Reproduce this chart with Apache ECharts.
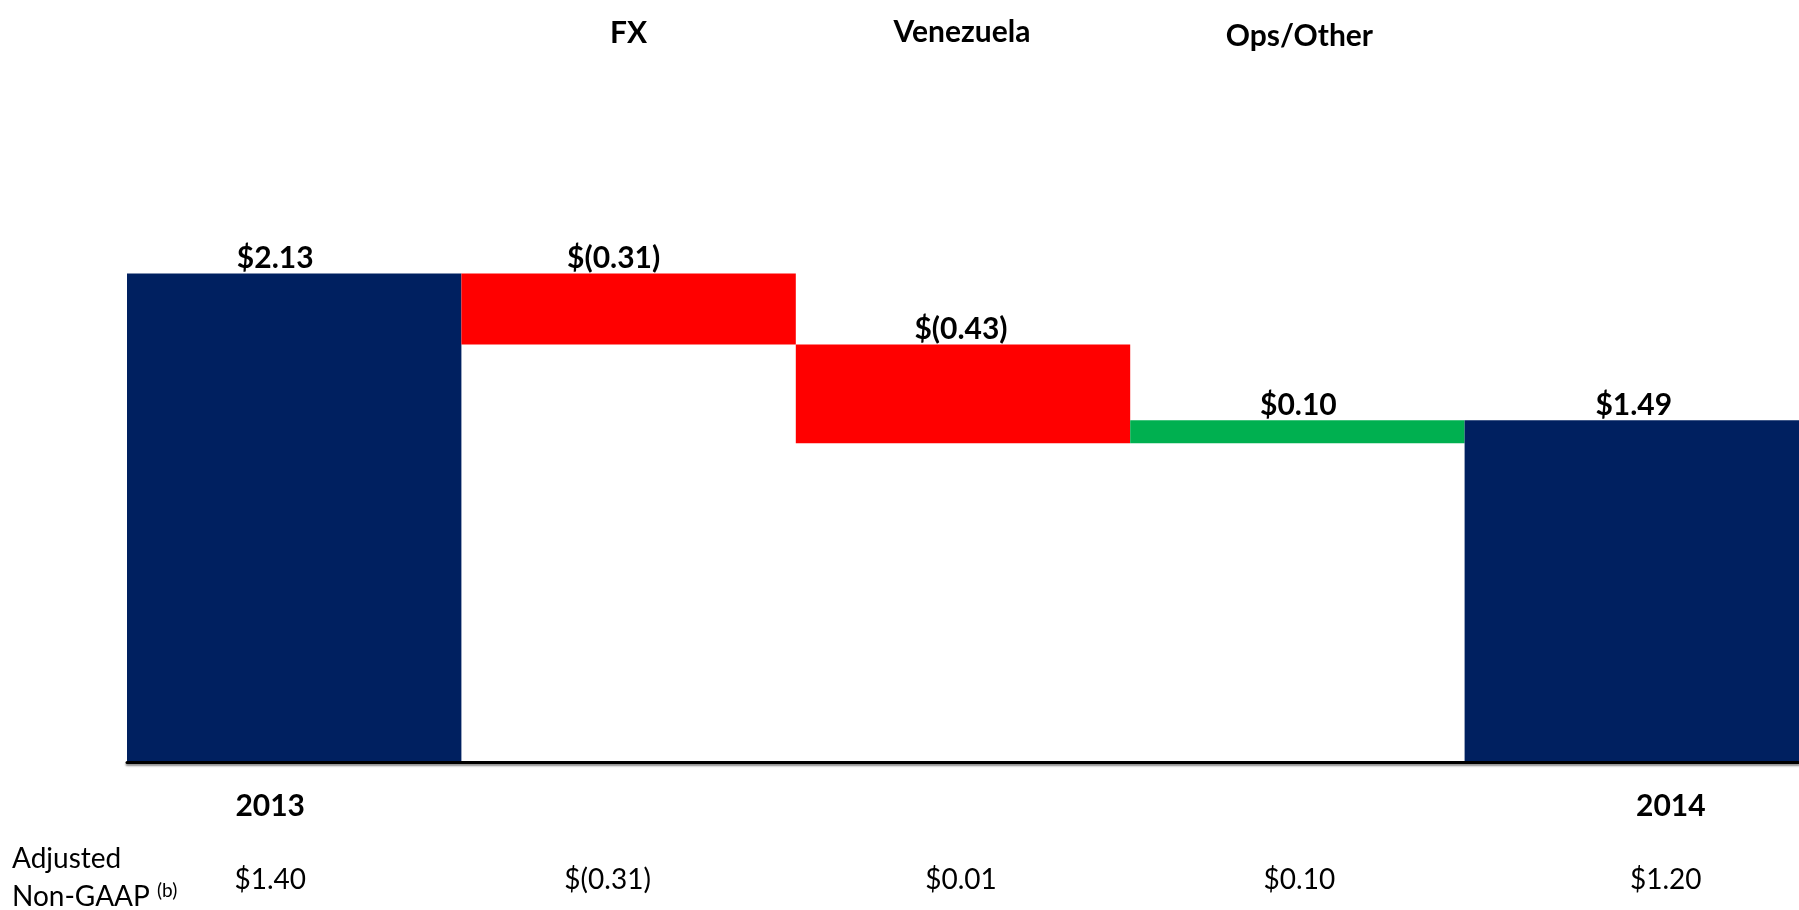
<!DOCTYPE html>
<html>
<head>
<meta charset="utf-8">
<script src="https://cdn.jsdelivr.net/npm/echarts@6/dist/echarts.min.js"></script>
<style>
  html, body { margin: 0; padding: 0; background: #ffffff; }
  #chart { width: 1799px; height: 910px; }
</style>
</head>
<body>
<div id="chart"></div>
<script>
// EPS bridge, 2013 -> 2014
const categories = ['2013', 'FX', 'Venezuela', 'Ops/Other', '2014'];
const startValue = 2.13;
const stepChanges = [-0.31, -0.43, 0.10];
const endValue = 1.49;
const adjustedNonGaap = [1.40, -0.31, 0.01, 0.10, 1.20];
const rowTitle = ['Adjusted', 'Non-GAAP'];
const footnoteMark = '(b)';

function money(v) {
  const s = Math.abs(v).toFixed(2);
  return v < 0 ? '$(' + s + ')' : '$' + s;
}

// Waterfall: an invisible base bar stacked under the visible segment
const base = [], segment = [], kind = [], labelValue = [];
base.push(0); segment.push(startValue); kind.push('total'); labelValue.push(startValue);
let level = startValue;
stepChanges.forEach(function (d) {
  const next = level + d;
  base.push(Math.min(level, next));
  segment.push(Math.abs(d));
  kind.push(d < 0 ? 'down' : 'up');
  labelValue.push(d);
  level = next;
});
base.push(0); segment.push(endValue); kind.push('total'); labelValue.push(endValue);

const COLORS = { total: '#002060', down: '#FF0000', up: '#00B050' };
const FONT = 'Lato, "Open Sans", sans-serif';

// small horizontal nudges for the text rows (px, + = right)
function richFor(shifts, extra) {
  const rich = {};
  shifts.forEach(function (s, i) {
    const st = Object.assign({}, extra(i));
    const pad = st.padding || [0, 0, 0, 0];
    if (s < 0) pad[1] += -2 * s; else pad[3] += 2 * s;
    st.padding = pad;
    rich['k' + i] = st;
  });
  return rich;
}

const bottomRich = richFor([-24, 0, 0, 0, 39], function () {
  return { fontFamily: FONT, fontWeight: 'bold', fontSize: 30, lineHeight: 34, color: '#000' };
});
const topRich = richFor([-15, 0, -1, 2, 0], function (i) {
  const padBottom = [0, 5, 8, 0, 0][i];
  return { fontFamily: FONT, fontWeight: 'bold', fontSize: 30, lineHeight: 34, color: '#000',
           padding: [0, 0, padBottom, 0] };
});
const valueRich = richFor([-24, -21, -2, 2, 34], function () {
  return { fontFamily: FONT, fontSize: 28, lineHeight: 34, color: '#000' };
});
const barLabelShift = [-19, -15, -2, 1, 2];

const chart = echarts.init(document.getElementById('chart'), null, { renderer: 'canvas' });

chart.setOption({
  animation: false,
  backgroundColor: '#ffffff',
  grid: { left: 127, right: -6, top: 74, bottom: 148, containLabel: false },
  xAxis: [
    {
      type: 'category', position: 'bottom', data: categories, z: 5,
      axisLine: { show: true, lineStyle: { color: '#000', width: 3,
        shadowColor: 'rgba(0,0,0,0.45)', shadowBlur: 2, shadowOffsetY: 2 } },
      axisTick: { show: false },
      axisLabel: {
        interval: 0, margin: 27,
        formatter: function (v, i) { return kind[i] === 'total' ? '{k' + i + '|' + v + '}' : ''; },
        rich: bottomRich
      }
    },
    {
      type: 'category', position: 'top', data: categories,
      axisLine: { show: false }, axisTick: { show: false },
      axisLabel: {
        interval: 0, margin: 21,
        formatter: function (v, i) { return kind[i] !== 'total' ? '{k' + i + '|' + v + '}' : ''; },
        rich: topRich
      }
    },
    {
      type: 'category', position: 'bottom', offset: 0,
      data: adjustedNonGaap.map(money),
      axisLine: { show: false }, axisTick: { show: false },
      axisLabel: {
        interval: 0, margin: 101,
        formatter: function (v, i) { return '{k' + i + '|' + v + '}'; },
        rich: valueRich
      }
    }
  ],
  yAxis: {
    type: 'value', min: 0, max: 3,
    show: false, splitLine: { show: false }
  },
  series: [
    {
      name: 'base', type: 'bar', stack: 'bridge', xAxisIndex: 0,
      barCategoryGap: '0%', silent: true,
      itemStyle: { color: 'transparent' },
      data: base
    },
    {
      name: 'EPS', type: 'bar', stack: 'bridge', xAxisIndex: 0,
      barCategoryGap: '0%', silent: true,
      data: segment.map(function (v, i) {
        return {
          value: v,
          itemStyle: { color: COLORS[kind[i]] },
          label: { offset: [barLabelShift[i], 0] }
        };
      }),
      label: {
        show: true, position: 'top', distance: 0,
        fontFamily: FONT, fontWeight: 'bold', fontSize: 30, color: '#000',
        formatter: function (p) { return money(labelValue[p.dataIndex]); }
      }
    }
  ],
  graphic: [
    {
      type: 'text', left: 12, top: 845, silent: true,
      style: {
        text: '{r|' + rowTitle[0] + '}\n{r|' + rowTitle[1] + ' }{s|' + footnoteMark + '}',
        fill: '#000',
        rich: {
          r: { fontFamily: FONT, fontSize: 28, lineHeight: 38, fill: '#000' },
          s: { fontFamily: FONT, fontSize: 19, lineHeight: 38, fill: '#000', verticalAlign: 'top', padding: [3, 0, 0, 0] }
        }
      }
    }
  ]
});
</script>
</body>
</html>
